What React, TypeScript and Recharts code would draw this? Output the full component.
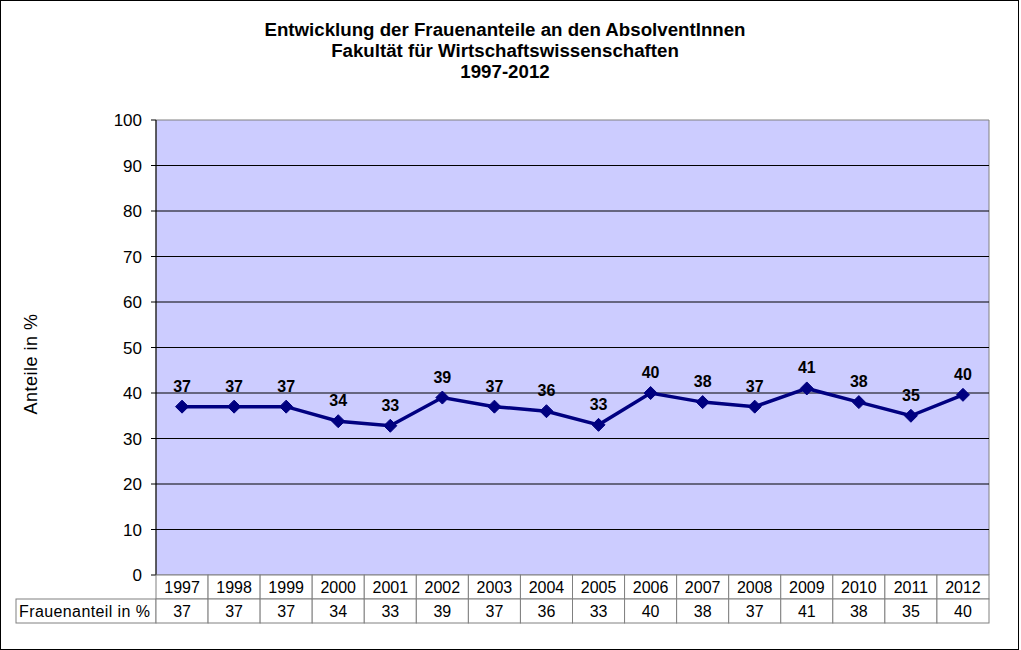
import React from 'react';
import { ComposedChart, Line, XAxis, YAxis, ReferenceArea, ReferenceLine, LabelList } from 'recharts';

const years = ['1997', '1998', '1999', '2000', '2001', '2002', '2003', '2004', '2005', '2006', '2007', '2008', '2009', '2010', '2011', '2012'];
const shares = [37, 37, 37, 33.8, 32.8, 39, 37, 36, 33, 40, 38, 37, 41, 38, 35, 39.6];
const yTicks = [0, 10, 20, 30, 40, 50, 60, 70, 80, 90, 100];
const gridValues = [10, 20, 30, 40, 50, 60, 70, 80, 90];
const titleLines = ['Entwicklung der Frauenanteile an den AbsolventInnen', 'Fakultät für Wirtschaftswissenschaften', '1997-2012'];
const yLabel = 'Anteile in %';
const rowHeader = 'Frauenanteil in %';

const data = years.map((year, i) => ({ year, value: shares[i] }));

const W = 1021;
const H = 650;
const PLOT_L = 156;
const PLOT_R = 989;
const PLOT_T = 120;
const PLOT_B = 575;
const BAND = (PLOT_R - PLOT_L) / years.length;
const ROW = 24;
const TABLE_L = 16;
const FONT = '"Liberation Sans", Arial, sans-serif';
const LINE_COLOR = '#000080';
const CELL_STROKE = '#808080';

const TableTick = (props: any) => {
  const { x, payload } = props;
  const idx = years.indexOf(String(payload.value));
  const v = shares[idx];
  const left = x - BAND / 2;
  return (
    <g fontFamily={FONT} fontSize={16} fill="#000">
      {idx === 0 && (
        <g>
          <rect x={TABLE_L} y={PLOT_B + ROW} width={left - TABLE_L} height={ROW} fill="#fff" stroke={CELL_STROKE} />
          <text x={TABLE_L + 3} y={PLOT_B + ROW + 18} textAnchor="start" letterSpacing={0.4} fill="#000">{rowHeader}</text>
        </g>
      )}
      <rect x={left} y={PLOT_B} width={BAND} height={ROW} fill="#fff" stroke={CELL_STROKE} />
      <rect x={left} y={PLOT_B + ROW} width={BAND} height={ROW} fill="#fff" stroke={CELL_STROKE} />
      <text x={x} y={PLOT_B + 18} textAnchor="middle" fill="#000">{payload.value}</text>
      <text x={x} y={PLOT_B + ROW + 18} textAnchor="middle" fill="#000">{Math.round(v)}</text>
    </g>
  );
};

const Diamond = (props: any) => {
  const { cx, cy } = props;
  if (cx == null || cy == null) return null;
  const r = 6.5;
  return (
    <polygon
      points={`${cx},${cy - r} ${cx + r},${cy} ${cx},${cy + r} ${cx - r},${cy}`}
      fill={LINE_COLOR}
      stroke={LINE_COLOR}
    />
  );
};

const PointLabel = (props: any) => {
  const { x, y, value } = props;
  if (x == null || y == null) return null;
  return (
    <text x={x} y={y - 15} textAnchor="middle" fontFamily={FONT} fontWeight="bold" fontSize={16} fill="#000">
      {Math.round(Number(value))}
    </text>
  );
};

export default function App() {
  return (
    <div style={{ position: 'relative', width: W, height: H, background: '#fff', fontFamily: FONT }}>
      <style>{'body{margin:0;}'}</style>
      <div
        style={{
          position: 'absolute',
          left: 0,
          top: 0,
          width: 1019,
          height: 650,
          border: '1px solid #000',
          boxSizing: 'border-box',
          pointerEvents: 'none',
          zIndex: 2,
        }}
      />
      <div
        style={{
          position: 'absolute',
          left: 0,
          width: 1010,
          top: 19,
          textAlign: 'center',
          fontWeight: 'bold',
          fontSize: 18.7,
          lineHeight: '21px',
          color: '#000',
          zIndex: 1,
        }}
      >
        {titleLines.map((t) => (
          <div key={t}>{t}</div>
        ))}
      </div>
      <div
        style={{
          position: 'absolute',
          left: 31,
          top: 364,
          transform: 'translate(-50%, -50%) rotate(-90deg)',
          fontSize: 18,
          letterSpacing: 0.5,
          whiteSpace: 'nowrap',
          color: '#000',
          zIndex: 1,
        }}
      >
        {yLabel}
      </div>
      <ComposedChart
        width={W}
        height={H}
        data={data}
        margin={{ top: PLOT_T, right: W - PLOT_R, left: 0, bottom: H - PLOT_B - 50 }}
      >
        <ReferenceArea y1={0} y2={100} fill="#CCCCFF" fillOpacity={1} stroke={CELL_STROKE} ifOverflow="visible" />
        {gridValues.map((g) => (
          <ReferenceLine key={g} y={g} stroke="#000" strokeWidth={1} />
        ))}
        <XAxis
          dataKey="year"
          type="category"
          scale="band"
          axisLine={false}
          tickLine={false}
          tickSize={0}
          tickMargin={0}
          interval={0}
          height={50}
          tick={<TableTick />}
        />
        <YAxis
          domain={[0, 100]}
          ticks={yTicks}
          width={PLOT_L}
          tickSize={5}
          tickMargin={9}
          axisLine={{ stroke: '#000' }}
          tickLine={{ stroke: '#000' }}
          tick={{ fontSize: 17, fill: '#000', fontFamily: FONT }}
          interval={0}
        />
        <Line
          type="linear"
          dataKey="value"
          stroke={LINE_COLOR}
          strokeWidth={3.5}
          dot={<Diamond />}
          activeDot={false}
          isAnimationActive={false}
        >
          <LabelList dataKey="value" content={<PointLabel />} />
        </Line>
      </ComposedChart>
    </div>
  );
}
